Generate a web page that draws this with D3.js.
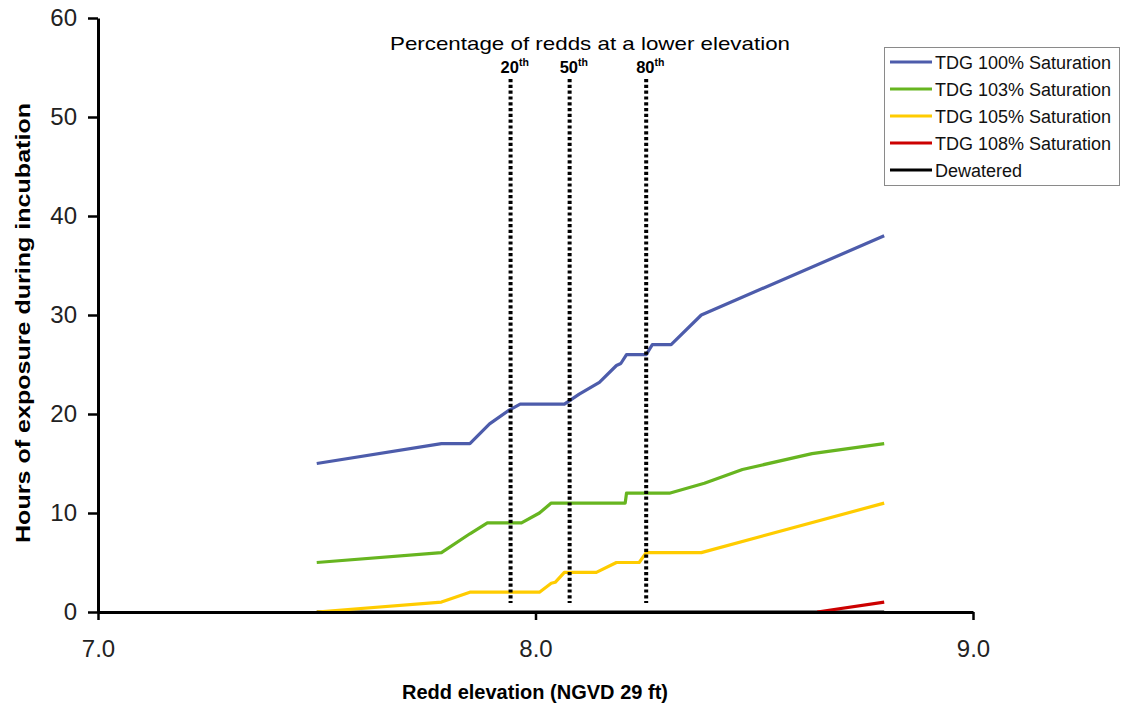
<!DOCTYPE html>
<html>
<head>
<meta charset="utf-8">
<script src="https://cdn.jsdelivr.net/npm/d3@7/dist/d3.min.js"></script>
<style>
  body { margin: 0; background: #fff; }
  svg { display: block; font-family: "Liberation Sans", Arial, sans-serif; }
</style>
</head>
<body>
<svg id="chart" width="1128" height="710"></svg>
<script>
// Redd elevation (ft) vs hours of exposure for each TDG level
const elevTDG100 = [7.50, 7.785, 7.85, 7.895, 7.94, 7.965, 8.066, 8.10, 8.146, 8.185, 8.195, 8.208, 8.253, 8.267, 8.31, 8.379, 8.797];
const hoursTDG100 = [15, 17, 17, 19, 20.4, 21, 21, 22, 23.2, 24.9, 25.1, 26, 26, 27, 27, 30, 38];

const elevTDG103 = [7.50, 7.785, 7.85, 7.89, 7.968, 8.009, 8.036, 8.205, 8.208, 8.306, 8.386, 8.473, 8.632, 8.797];
const hoursTDG103 = [5, 6, 7.9, 9, 9, 10, 11, 11, 12, 12, 13, 14.4, 16, 17];

const elevTDG105 = [7.50, 7.785, 7.85, 8.009, 8.036, 8.045, 8.066, 8.139, 8.185, 8.237, 8.253, 8.379, 8.797];
const hoursTDG105 = [0, 1, 2, 2, 2.9, 3, 4, 4, 5, 5, 6, 6, 11];

const elevTDG108 = [8.644, 8.797];
const hoursTDG108 = [0, 1];

const elevDewatered = [7.50, 8.797];
const hoursDewatered = [0, 0];

const seriesNames = ["TDG 100% Saturation", "TDG 103% Saturation", "TDG 105% Saturation", "TDG 108% Saturation", "Dewatered"];
const seriesColors = ["#4d5cab", "#67b520", "#ffcc00", "#cc0000", "#000000"];

// Percentile markers of redd elevation
const percentileLabels = ["20", "50", "80"];
const percentileElev = [7.943, 8.078, 8.253];

const xTicks = [7, 8, 9];
const yTicks = [0, 10, 20, 30, 40, 50, 60];

const svg = d3.select("#chart");
const x = d3.scaleLinear().domain([7, 9]).range([98, 973]);
const y = d3.scaleLinear().domain([0, 60]).range([612, 18]);

const series = [
  { elev: elevTDG100, hours: hoursTDG100 },
  { elev: elevTDG103, hours: hoursTDG103 },
  { elev: elevTDG105, hours: hoursTDG105 },
  { elev: elevTDG108, hours: hoursTDG108 },
  { elev: elevDewatered, hours: hoursDewatered }
].map((s, i) => ({ name: seriesNames[i], color: seriesColors[i], pts: s.elev.map((e, j) => [e, s.hours[j]]) }));

const line = d3.line().x(d => x(d[0])).y(d => y(d[1]));

// series lines
svg.append("g").selectAll("path")
  .data(series.slice().reverse())
  .join("path")
  .attr("d", d => line(d.pts))
  .attr("fill", "none")
  .attr("stroke", d => d.color)
  .attr("stroke-width", 3.2)
  .attr("stroke-linejoin", "round");

// percentile dotted lines
const pg = svg.append("g");
pg.selectAll("line")
  .data(percentileElev)
  .join("line")
  .attr("x1", d => x(d)).attr("x2", d => x(d))
  .attr("y1", 79).attr("y2", 603)
  .attr("stroke", "#000")
  .attr("stroke-width", 4)
  .attr("stroke-dasharray", "3.2,2.6");

const pl = pg.selectAll("text.pct")
  .data(percentileLabels)
  .join("text")
  .attr("class", "pct")
  .attr("x", (d, i) => x(percentileElev[i]) - 10)
  .attr("y", 73)
  .attr("text-anchor", "start")
  .attr("font-size", 16.5)
  .attr("font-weight", "bold");
pl.append("tspan").text(d => d);
pl.append("tspan").attr("font-size", 10.5).attr("dy", -7).text("th");

svg.append("text")
  .attr("x", 590).attr("y", 50)
  .attr("text-anchor", "middle")
  .attr("font-size", 19)
  .attr("textLength", 400)
  .attr("lengthAdjust", "spacingAndGlyphs")
  .text("Percentage of redds at a lower elevation");

// axes
const yAxis = svg.append("g")
  .attr("transform", `translate(${x(7)},0)`)
  .call(d3.axisLeft(y).tickValues(yTicks).tickSize(10).tickSizeOuter(0).tickPadding(11).tickFormat(d3.format("d")));
const xAxis = svg.append("g")
  .attr("transform", `translate(0,${y(0)})`)
  .call(d3.axisBottom(x).tickValues(xTicks).tickSize(8).tickSizeOuter(0).tickPadding(20).tickFormat(d3.format(".1f")));

[yAxis, xAxis].forEach(a => {
  a.select(".domain").attr("stroke", "#000").attr("stroke-width", 3);
  a.selectAll(".tick line").attr("stroke", "#000").attr("stroke-width", 2.5);
  a.selectAll(".tick text").attr("font-size", 24).attr("fill", "#222")
    .attr("font-family", "'Liberation Sans', Arial, sans-serif");
});

// axis titles
svg.append("text")
  .attr("x", 535).attr("y", 699)
  .attr("text-anchor", "middle")
  .attr("font-size", 20.5).attr("font-weight", "bold")
  .attr("textLength", 266)
  .attr("lengthAdjust", "spacingAndGlyphs")
  .text("Redd elevation (NGVD 29 ft)");
svg.append("text")
  .attr("transform", "translate(30,323) rotate(-90)")
  .attr("text-anchor", "middle")
  .attr("font-size", 21).attr("font-weight", "bold")
  .attr("textLength", 440)
  .attr("lengthAdjust", "spacingAndGlyphs")
  .text("Hours of exposure during incubation");

// legend
const lg = svg.append("g");
lg.append("rect")
  .attr("x", 884.5).attr("y", 47.5)
  .attr("width", 235).attr("height", 138)
  .attr("fill", "#fff").attr("stroke", "#8a8a8a").attr("stroke-width", 1);
const rows = lg.selectAll("g.row").data(series).join("g")
  .attr("class", "row")
  .attr("transform", (d, i) => `translate(0,${62 + i * 27})`);
rows.append("line")
  .attr("x1", 890).attr("x2", 932)
  .attr("stroke", d => d.color).attr("stroke-width", 3);
rows.append("text")
  .attr("x", 935).attr("y", 6.5)
  .attr("font-size", 18)
  .attr("fill", "#111")
  .text(d => d.name);
</script>
</body>
</html>
